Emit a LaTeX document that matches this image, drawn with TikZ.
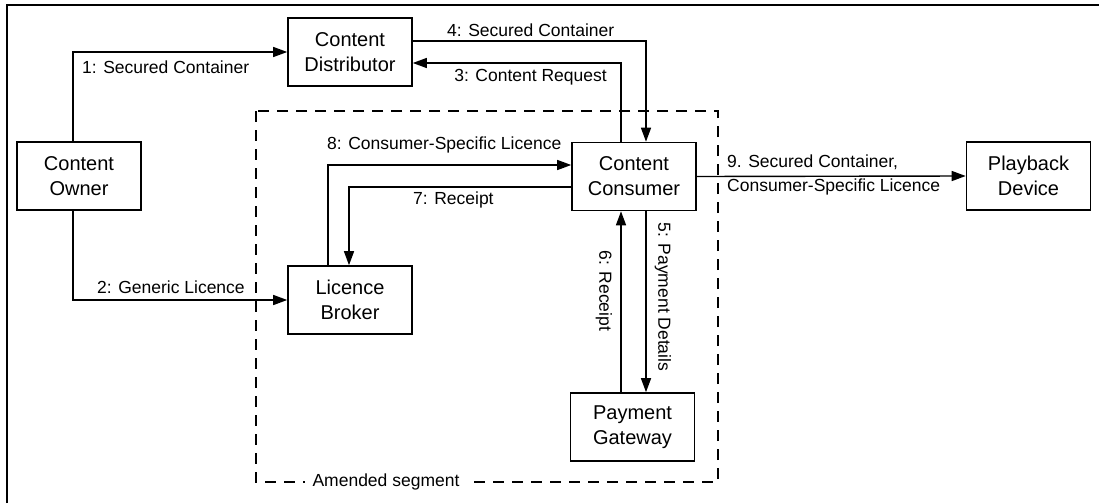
\documentclass[tikz,border=0pt]{standalone}
\usepackage{fontspec}
\setmainfont{Liberation Sans}
\usetikzlibrary{arrows.meta,calc}
\tikzset{
  box/.style={draw, line width=1.6pt, minimum width=124pt, minimum height=68pt,
    align=center, inner sep=0pt, font=\fontsize{20}{25}\selectfont},
  flow/.style={line width=1.4pt, -{Triangle[length=14pt,width=10pt]}},
  lbl/.style={inner sep=0pt, font=\fontsize{17.5}{24}\selectfont},
  region/.style={line width=1.3pt, dash pattern=on 11pt off 8pt}
}
\begin{document}
\begin{tikzpicture}[x=1pt,y=-1pt]
  \useasboundingbox (0,0) rectangle (1099,503);
  % frame (left and top edges)
  \draw[line width=1.8pt] (7,503) -- (7,5) -- (1099,5);

  % amended segment region
  \draw[region] (256,111) rectangle (718,482);
  \node[lbl, fill=white, inner xsep=8pt, inner ysep=3pt] (seg) at (386,482) {Amended segment};

  % parties
  \node[box] (dist) at (350,52)    {Content\\Distributor};
  \node[box] (own)  at (79,176)    {Content\\Owner};
  \node[box] (con)  at (634,176.5) {Content\\Consumer};
  \node[box] (pb)   at (1028.5,176){Playback\\Device};
  \node[box] (brk)  at (350,300)   {Licence\\Broker};
  \node[box] (pay)  at (632.5,427) {Payment\\Gateway};

  % message flows
  \draw[flow] ([xshift=-6pt]own.north) |- (dist.west);
  \draw[flow] ([xshift=-6pt]own.south) |- (brk.west);
  \draw[flow] ([xshift=-13pt]con.north) |- ([yshift=-11pt]dist.east);
  \draw[flow] ([yshift=11pt]dist.east) -| ([xshift=12pt]con.north);
  \draw[flow] ([xshift=12pt]con.south) -- ([xshift=12pt+1.5pt]pay.north);
  \draw[flow] ([xshift=-11.5pt]pay.north) -- ([xshift=-13pt]con.south);
  \draw[flow] ([yshift=-10.5pt]con.west) -| ([xshift=-1pt]brk.north);
  \draw[flow] ([xshift=-22pt]brk.north) |- ([yshift=11.5pt]con.west);
  \draw[flow] (con.east) -- (pb.west);

  % flow labels
  \node[lbl, anchor=west] (l1) at (82,67)   {1: Secured Container};
  \node[lbl, anchor=west] (l2) at (97,287)  {2: Generic Licence};
  \node[lbl, anchor=east] (l3) at (607,77)  {3: Content Request};
  \node[lbl, anchor=west] (l4) at (447,30)  {4: Secured Container};
  \node[lbl, rotate=-90]  (l5) at (663,297) {5: Payment Details};
  \node[lbl, rotate=-90]  (l6) at (604,291) {6: Receipt};
  \node[lbl, anchor=west] (l7) at (413,200) {7: Receipt};
  \node[lbl, anchor=west] (l8) at (327,145) {8: Consumer-Specific Licence};
  \node[lbl, anchor=west, align=left] (l9) at (727,175)
    {9. Secured Container,\\Consumer-Specific Licence};
\end{tikzpicture}
\end{document}
